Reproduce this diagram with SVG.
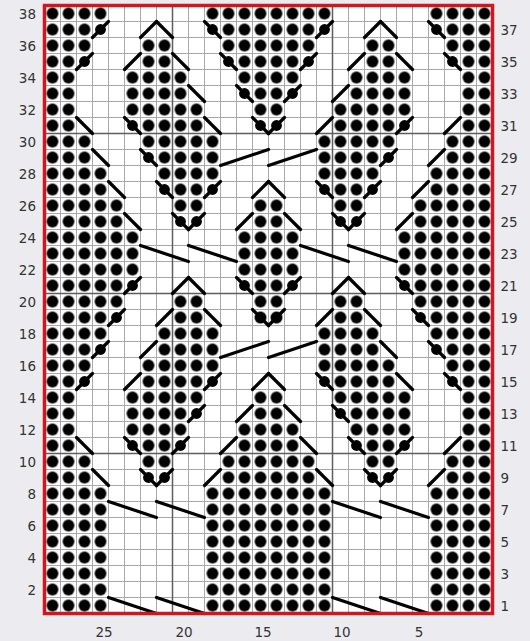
<svg xmlns="http://www.w3.org/2000/svg" xmlns:xlink="http://www.w3.org/1999/xlink" width="530" height="641" viewBox="0 0 530 641">
<style>
.lbl{font-family:"DejaVu Sans","Liberation Sans",sans-serif;font-size:13.5px;fill:#333}
.l{text-anchor:end}
.r{text-anchor:start}
.b{text-anchor:middle}
.thin{stroke:#a9a9a9;stroke-width:1;fill:none}
.thick{stroke:#5e5e5e;stroke-width:1.5;fill:none}
.cab{stroke:#000;stroke-width:3.2;stroke-linecap:round;fill:none}
</style>
<defs>
<pattern id="dot" patternUnits="userSpaceOnUse" x="44.5" y="5.5" width="16" height="16"><circle cx="8" cy="8" r="5.9" fill="#000"/></pattern>
<path id="f" d="M0,16L16,0" stroke="#000" stroke-width="3.2" stroke-linecap="round" fill="none"/>
<path id="b" d="M0,0L16,16" stroke="#000" stroke-width="3.2" stroke-linecap="round" fill="none"/>
<g id="fd"><use xlink:href="#f" href="#f"/><circle cx="8" cy="8" r="5.4" fill="#000"/></g>
<g id="bd"><use xlink:href="#b" href="#b"/><circle cx="8" cy="8" r="5.4" fill="#000"/></g>
</defs>
<rect x="0" y="0" width="530" height="641" fill="#ececf0"/>
<rect x="44.5" y="5.5" width="448" height="608" fill="#fff"/>
<g id="grid">
<path class="thin" d="M60.5,5.5v608m16,-608v608m16,-608v608m16,-608v608m16,-608v608m16,-608v608m16,-608v608m16,-608v608m16,-608v608m16,-608v608m16,-608v608m16,-608v608m16,-608v608m16,-608v608m16,-608v608m16,-608v608m16,-608v608m16,-608v608m16,-608v608m16,-608v608m16,-608v608m16,-608v608m16,-608v608m16,-608v608m16,-608v608m16,-608v608m16,-608v608"/>
<path class="thin" d="M44.5,21.5h448m-448,16h448m-448,16h448m-448,16h448m-448,16h448m-448,16h448m-448,16h448m-448,16h448m-448,16h448m-448,16h448m-448,16h448m-448,16h448m-448,16h448m-448,16h448m-448,16h448m-448,16h448m-448,16h448m-448,16h448m-448,16h448m-448,16h448m-448,16h448m-448,16h448m-448,16h448m-448,16h448m-448,16h448m-448,16h448m-448,16h448m-448,16h448m-448,16h448m-448,16h448m-448,16h448m-448,16h448m-448,16h448m-448,16h448m-448,16h448m-448,16h448m-448,16h448"/>
<path class="thick" d="M172.5,5.5V613.5M332.5,5.5V613.5M44.5,133.5H492.5M44.5,293.5H492.5M44.5,453.5H492.5"/>
</g>
<g id="purl-dots" fill="url(#dot)">
<rect x="44.5" y="5.5" width="64" height="16"/><rect x="204.5" y="5.5" width="128" height="16"/><rect x="428.5" y="5.5" width="64" height="16"/>
<rect x="44.5" y="21.5" width="48" height="32"/><rect x="220.5" y="21.5" width="96" height="32"/><rect x="444.5" y="21.5" width="48" height="32"/>
<rect x="140.5" y="37.5" width="32" height="32"/><rect x="364.5" y="37.5" width="32" height="32"/>
<rect x="44.5" y="53.5" width="32" height="64"/><rect x="236.5" y="53.5" width="64" height="32"/><rect x="460.5" y="53.5" width="32" height="64"/>
<rect x="124.5" y="69.5" width="64" height="32"/><rect x="348.5" y="69.5" width="64" height="32"/>
<rect x="252.5" y="85.5" width="32" height="32"/>
<rect x="124.5" y="101.5" width="80" height="16"/><rect x="332.5" y="101.5" width="80" height="16"/>
<rect x="44.5" y="117.5" width="32" height="16"/><rect x="140.5" y="117.5" width="64" height="16"/><rect x="332.5" y="117.5" width="64" height="16"/><rect x="460.5" y="117.5" width="32" height="16"/>
<rect x="44.5" y="133.5" width="48" height="32"/><rect x="140.5" y="133.5" width="80" height="16"/><rect x="316.5" y="133.5" width="80" height="16"/><rect x="444.5" y="133.5" width="48" height="32"/>
<rect x="156.5" y="149.5" width="64" height="32"/><rect x="316.5" y="149.5" width="64" height="32"/>
<rect x="44.5" y="165.5" width="64" height="32"/><rect x="428.5" y="165.5" width="64" height="32"/>
<rect x="172.5" y="181.5" width="32" height="32"/><rect x="332.5" y="181.5" width="32" height="32"/>
<rect x="44.5" y="197.5" width="80" height="32"/><rect x="252.5" y="197.5" width="32" height="32"/><rect x="412.5" y="197.5" width="80" height="32"/>
<rect x="44.5" y="229.5" width="96" height="48"/><rect x="236.5" y="229.5" width="64" height="48"/><rect x="396.5" y="229.5" width="96" height="48"/>
<rect x="44.5" y="277.5" width="80" height="32"/><rect x="252.5" y="277.5" width="32" height="48"/><rect x="412.5" y="277.5" width="80" height="32"/>
<rect x="172.5" y="293.5" width="32" height="32"/><rect x="332.5" y="293.5" width="32" height="32"/>
<rect x="44.5" y="309.5" width="64" height="32"/><rect x="428.5" y="309.5" width="64" height="32"/>
<rect x="156.5" y="325.5" width="64" height="32"/><rect x="316.5" y="325.5" width="64" height="32"/>
<rect x="44.5" y="341.5" width="48" height="32"/><rect x="444.5" y="341.5" width="48" height="32"/>
<rect x="140.5" y="357.5" width="80" height="16"/><rect x="316.5" y="357.5" width="80" height="16"/>
<rect x="44.5" y="373.5" width="32" height="80"/><rect x="140.5" y="373.5" width="64" height="16"/><rect x="332.5" y="373.5" width="64" height="16"/><rect x="460.5" y="373.5" width="32" height="80"/>
<rect x="124.5" y="389.5" width="80" height="16"/><rect x="252.5" y="389.5" width="32" height="32"/><rect x="332.5" y="389.5" width="80" height="16"/>
<rect x="124.5" y="405.5" width="64" height="32"/><rect x="348.5" y="405.5" width="64" height="32"/>
<rect x="236.5" y="421.5" width="64" height="32"/>
<rect x="140.5" y="437.5" width="32" height="32"/><rect x="364.5" y="437.5" width="32" height="32"/>
<rect x="44.5" y="453.5" width="48" height="32"/><rect x="220.5" y="453.5" width="96" height="32"/><rect x="444.5" y="453.5" width="48" height="32"/>
<rect x="44.5" y="485.5" width="64" height="128"/><rect x="204.5" y="485.5" width="128" height="128"/><rect x="428.5" y="485.5" width="64" height="128"/>
</g>
<g id="connectors">
<use href="#fd" x="92.5" y="21.5"/><use href="#f" x="140.5" y="21.5"/><use href="#b" x="156.5" y="21.5"/><use href="#bd" x="204.5" y="21.5"/><use href="#fd" x="316.5" y="21.5"/><use href="#f" x="364.5" y="21.5"/><use href="#b" x="380.5" y="21.5"/><use href="#bd" x="428.5" y="21.5"/>
<use href="#fd" x="76.5" y="53.5"/><use href="#f" x="124.5" y="53.5"/><use href="#b" x="172.5" y="53.5"/><use href="#bd" x="220.5" y="53.5"/><use href="#fd" x="300.5" y="53.5"/><use href="#f" x="348.5" y="53.5"/><use href="#b" x="396.5" y="53.5"/><use href="#bd" x="444.5" y="53.5"/>
<use href="#b" x="188.5" y="85.5"/><use href="#bd" x="236.5" y="85.5"/><use href="#fd" x="284.5" y="85.5"/><use href="#f" x="332.5" y="85.5"/>
<use href="#b" x="76.5" y="117.5"/><use href="#bd" x="124.5" y="117.5"/><use href="#b" x="204.5" y="117.5"/><use href="#bd" x="252.5" y="117.5"/><use href="#fd" x="268.5" y="117.5"/><use href="#f" x="316.5" y="117.5"/><use href="#fd" x="396.5" y="117.5"/><use href="#f" x="444.5" y="117.5"/>
<use href="#b" x="92.5" y="149.5"/><use href="#bd" x="140.5" y="149.5"/><use href="#fd" x="380.5" y="149.5"/><use href="#f" x="428.5" y="149.5"/>
<use href="#b" x="108.5" y="181.5"/><use href="#bd" x="156.5" y="181.5"/><use href="#fd" x="204.5" y="181.5"/><use href="#f" x="252.5" y="181.5"/><use href="#b" x="268.5" y="181.5"/><use href="#bd" x="316.5" y="181.5"/><use href="#fd" x="364.5" y="181.5"/><use href="#f" x="412.5" y="181.5"/>
<use href="#b" x="124.5" y="213.5"/><use href="#bd" x="172.5" y="213.5"/><use href="#fd" x="188.5" y="213.5"/><use href="#f" x="236.5" y="213.5"/><use href="#b" x="284.5" y="213.5"/><use href="#bd" x="332.5" y="213.5"/><use href="#fd" x="348.5" y="213.5"/><use href="#f" x="396.5" y="213.5"/>
<use href="#fd" x="124.5" y="277.5"/><use href="#f" x="172.5" y="277.5"/><use href="#b" x="188.5" y="277.5"/><use href="#bd" x="236.5" y="277.5"/><use href="#fd" x="284.5" y="277.5"/><use href="#f" x="332.5" y="277.5"/><use href="#b" x="348.5" y="277.5"/><use href="#bd" x="396.5" y="277.5"/>
<use href="#fd" x="108.5" y="309.5"/><use href="#f" x="156.5" y="309.5"/><use href="#b" x="204.5" y="309.5"/><use href="#bd" x="252.5" y="309.5"/><use href="#fd" x="268.5" y="309.5"/><use href="#f" x="316.5" y="309.5"/><use href="#b" x="364.5" y="309.5"/><use href="#bd" x="412.5" y="309.5"/>
<use href="#fd" x="92.5" y="341.5"/><use href="#f" x="140.5" y="341.5"/><use href="#b" x="380.5" y="341.5"/><use href="#bd" x="428.5" y="341.5"/>
<use href="#fd" x="76.5" y="373.5"/><use href="#f" x="124.5" y="373.5"/><use href="#fd" x="204.5" y="373.5"/><use href="#f" x="252.5" y="373.5"/><use href="#b" x="268.5" y="373.5"/><use href="#bd" x="316.5" y="373.5"/><use href="#b" x="396.5" y="373.5"/><use href="#bd" x="444.5" y="373.5"/>
<use href="#fd" x="188.5" y="405.5"/><use href="#f" x="236.5" y="405.5"/><use href="#b" x="284.5" y="405.5"/><use href="#bd" x="332.5" y="405.5"/>
<use href="#b" x="76.5" y="437.5"/><use href="#bd" x="124.5" y="437.5"/><use href="#fd" x="172.5" y="437.5"/><use href="#f" x="220.5" y="437.5"/><use href="#b" x="300.5" y="437.5"/><use href="#bd" x="348.5" y="437.5"/><use href="#fd" x="396.5" y="437.5"/><use href="#f" x="444.5" y="437.5"/>
<use href="#b" x="92.5" y="469.5"/><use href="#bd" x="140.5" y="469.5"/><use href="#fd" x="156.5" y="469.5"/><use href="#f" x="204.5" y="469.5"/><use href="#b" x="316.5" y="469.5"/><use href="#bd" x="364.5" y="469.5"/><use href="#fd" x="380.5" y="469.5"/><use href="#f" x="428.5" y="469.5"/>
<path class="cab" d="M220.5,165.5L268.5,149.5M268.5,165.5L316.5,149.5"/>
<path class="cab" d="M140.5,245.5L188.5,261.5M188.5,245.5L236.5,261.5M300.5,245.5L348.5,261.5M348.5,245.5L396.5,261.5"/>
<path class="cab" d="M220.5,357.5L268.5,341.5M268.5,357.5L316.5,341.5"/>
<path class="cab" d="M108.5,501.5L156.5,517.5M156.5,501.5L204.5,517.5M332.5,501.5L380.5,517.5M380.5,501.5L428.5,517.5"/>
<path class="cab" d="M108.5,597.5L156.5,613.5M156.5,597.5L204.5,613.5M332.5,597.5L380.5,613.5M380.5,597.5L428.5,613.5"/>
</g>
<rect x="44.5" y="5.5" width="448" height="608" fill="none" stroke="#d0161e" stroke-width="3.5"/>
<g id="labels" class="lbl">
<text class="l" x="36" y="18.5">38</text><text class="l" x="36" y="50.5">36</text><text class="l" x="36" y="82.5">34</text><text class="l" x="36" y="114.5">32</text><text class="l" x="36" y="146.5">30</text><text class="l" x="36" y="178.5">28</text><text class="l" x="36" y="210.5">26</text><text class="l" x="36" y="242.5">24</text><text class="l" x="36" y="274.5">22</text><text class="l" x="36" y="306.5">20</text><text class="l" x="36" y="338.5">18</text><text class="l" x="36" y="370.5">16</text><text class="l" x="36" y="402.5">14</text><text class="l" x="36" y="434.5">12</text><text class="l" x="36" y="466.5">10</text><text class="l" x="36" y="498.5">8</text><text class="l" x="36" y="530.5">6</text><text class="l" x="36" y="562.5">4</text><text class="l" x="36" y="594.5">2</text>
<text class="r" x="500.5" y="34.5">37</text><text class="r" x="500.5" y="66.5">35</text><text class="r" x="500.5" y="98.5">33</text><text class="r" x="500.5" y="130.5">31</text><text class="r" x="500.5" y="162.5">29</text><text class="r" x="500.5" y="194.5">27</text><text class="r" x="500.5" y="226.5">25</text><text class="r" x="500.5" y="258.5">23</text><text class="r" x="500.5" y="290.5">21</text><text class="r" x="500.5" y="322.5">19</text><text class="r" x="500.5" y="354.5">17</text><text class="r" x="500.5" y="386.5">15</text><text class="r" x="500.5" y="418.5">13</text><text class="r" x="500.5" y="450.5">11</text><text class="r" x="500.5" y="482.5">9</text><text class="r" x="500.5" y="514.5">7</text><text class="r" x="500.5" y="546.5">5</text><text class="r" x="500.5" y="578.5">3</text><text class="r" x="500.5" y="610.5">1</text>
<text class="b" x="104" y="636.5">25</text><text class="b" x="184" y="636.5">20</text><text class="b" x="263" y="636.5">15</text><text class="b" x="342" y="636.5">10</text><text class="b" x="419" y="636.5">5</text>
</g>
</svg>
